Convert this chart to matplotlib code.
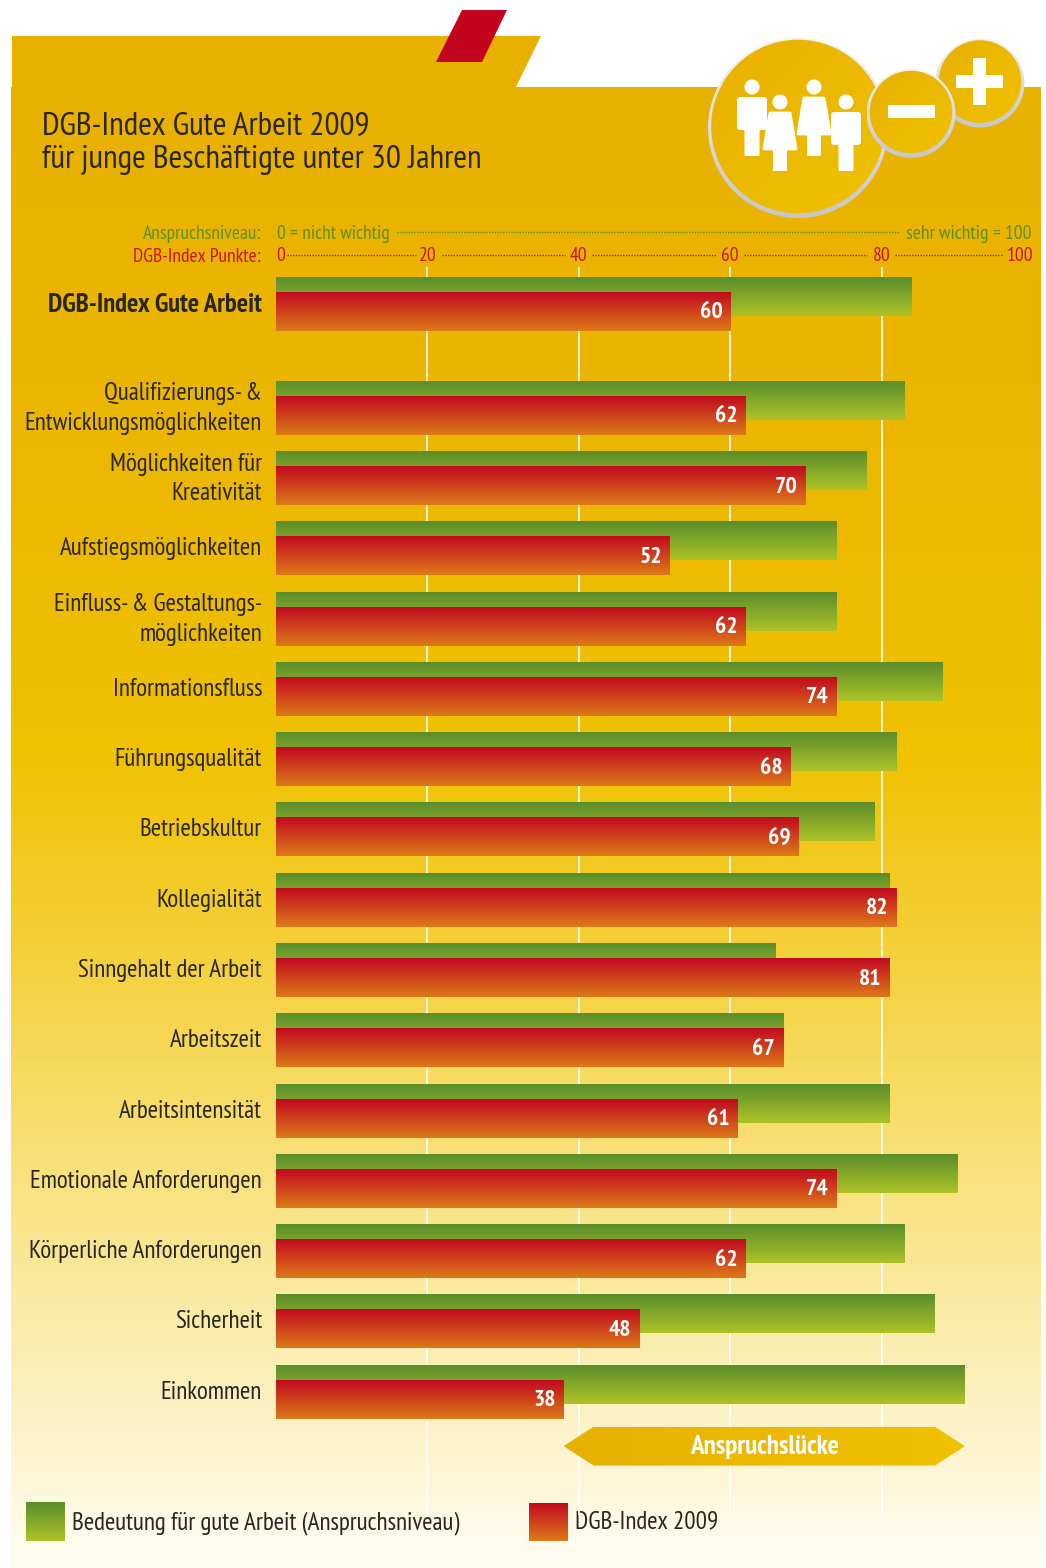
import numpy as np
import matplotlib
matplotlib.use("Agg")
import matplotlib.pyplot as plt
from matplotlib.colors import LinearSegmentedColormap
from matplotlib.patches import Circle, Polygon, Rectangle, FancyBboxPatch

plt.rcParams['font.family'] = ['PT Sans Narrow', 'Liberation Sans', 'DejaVu Sans']

# ---------- data ----------
summary_label = "DGB-Index Gute Arbeit"
summary_anspruch = 84
summary_index = 60

categories = [
    "Qualifizierungs- &\nEntwicklungsmöglichkeiten",
    "Möglichkeiten für\nKreativität",
    "Aufstiegsmöglichkeiten",
    "Einfluss- & Gestaltungs-\nmöglichkeiten",
    "Informationsfluss",
    "Führungsqualität",
    "Betriebskultur",
    "Kollegialität",
    "Sinngehalt der Arbeit",
    "Arbeitszeit",
    "Arbeitsintensität",
    "Emotionale Anforderungen",
    "Körperliche Anforderungen",
    "Sicherheit",
    "Einkommen",
]
anspruch = [83, 78, 74, 74, 88, 82, 79, 81, 66, 67, 81, 90, 83, 87, 91]
index_2009 = [62, 70, 52, 62, 74, 68, 69, 82, 81, 67, 61, 74, 62, 48, 38]
grid_ticks = [20, 40, 60, 80]
axis_ticks = [0, 20, 40, 60, 80, 100]

# ---------- colours ----------
GREEN = LinearSegmentedColormap.from_list("g", ["#5A8E2B", "#AEC227"])
RED = LinearSegmentedColormap.from_list("r", ["#C20A20", "#DC7A18"])
GOLD = LinearSegmentedColormap.from_list("gold", ["#E8B000", "#F0C200"])
RING = LinearSegmentedColormap.from_list("ring", ["#F4F4F4", "#C6C6C6"])
GREEN_TXT = "#5F9028"
RED_TXT = "#C8141E"
DARK = "#2A2622"

W, H = 1046, 1568
fig = plt.figure(figsize=(W / 100, H / 100), dpi=100, facecolor="white")

# background axes in pixel coordinates
bg = fig.add_axes([0, 0, 1, 1])
bg.set_xlim(0, W)
bg.set_ylim(H, 0)
bg.axis("off")

stops = [(36, "#E8B000"), (500, "#ECB800"), (750, "#F0C200"), (900, "#F3CC2A"),
         (1100, "#F8DC66"), (1350, "#FBEDB0"), (1568, "#FFFDF3")]
bg_cmap = LinearSegmentedColormap.from_list(
    "bg", [((y - 36) / (1568 - 36), c) for y, c in stops])
im = bg.imshow(np.linspace(0, 1, 512)[:, None], extent=(11, 1041, 1568, 36),
               cmap=bg_cmap, aspect="auto", zorder=1)
sheet = Polygon([(12, 36), (541, 36), (516, 87), (1041, 87), (1041, 1568),
                 (11, 1568), (11, 87), (12, 87)], closed=True, transform=bg.transData,
                fc="none", ec="none")
bg.add_patch(sheet)
im.set_clip_path(sheet)

bg.add_patch(Polygon([(462, 10), (507, 10), (482, 62), (436, 62)], fc="#C20421", ec="none", zorder=2))

diag = np.add.outer(np.linspace(0, 0.5, 128), np.linspace(0, 0.5, 128))


def badge(cx, cy, r, z):
    # ring heavier at the bottom, disc with a diagonal gradient on top
    ring = Circle((cx, cy), r, fc="none", ec="none", zorder=z)
    bg.add_patch(ring)
    a = bg.imshow(np.linspace(0, 1, 128)[:, None], extent=(cx - r, cx + r, cy + r, cy - r),
                  cmap=RING, aspect="auto", zorder=z)
    a.set_clip_path(ring)
    disc = Circle((cx, cy - 1.5), r - 3.2, fc="none", ec="none", zorder=z + 0.1)
    bg.add_patch(disc)
    b = bg.imshow(diag, extent=(cx - r, cx + r, cy + r, cy - r),
                  cmap=GOLD, vmin=0, vmax=1, aspect="auto", zorder=z + 0.1)
    b.set_clip_path(disc)


def white_rect(x0, y0, x1, y1, round_px=2):
    bg.add_patch(FancyBboxPatch((x0 + round_px, y0 + round_px), x1 - x0 - 2 * round_px, y1 - y0 - 2 * round_px,
                                boxstyle=f"round,pad={round_px},rounding_size={round_px}",
                                fc="white", ec="none", zorder=3.5))


def man(cx, head_y):
    bg.add_patch(Circle((cx, head_y), 7.5, fc="white", ec="none", zorder=3.5))
    white_rect(cx - 15, head_y + 10, cx + 15, head_y + 43, 3)
    white_rect(cx - 7.5, head_y + 40, cx + 7.5, head_y + 69, 1)


def woman(cx, head_y):
    bg.add_patch(Circle((cx, head_y), 7.5, fc="white", ec="none", zorder=3.5))
    bg.add_patch(Polygon([(cx - 10, head_y + 11), (cx + 10, head_y + 11), (cx + 12, head_y + 22),
                          (cx + 16, head_y + 47), (cx - 16, head_y + 47), (cx - 12, head_y + 22)],
                         fc="white", ec="white", lw=2, joinstyle="round", zorder=3.5))
    white_rect(cx - 7, head_y + 46, cx + 7, head_y + 69, 1)


badge(798, 128, 90, 3)
badge(980, 83, 44.5, 4)
badge(911, 113.5, 44.5, 5)
man(752, 87)
woman(780, 102)
woman(814, 87)
man(846, 102)
bg.add_patch(Rectangle((888, 105), 47, 13, fc="white", ec="none", zorder=6))
bg.add_patch(Rectangle((956, 75), 47, 13, fc="white", ec="none", zorder=6))
bg.add_patch(Rectangle((973, 58), 13, 47, fc="white", ec="none", zorder=6))

# title
bg.text(42, 127, "DGB-Index Gute Arbeit 2009", fontsize=24, color=DARK, va="center", zorder=6)
bg.text(42, 160, "für junge Beschäftigte unter 30 Jahren", fontsize=24, color=DARK, va="center", zorder=6)

# scale header
bg.text(261, 234, "Anspruchsniveau:", fontsize=14, color=GREEN_TXT, ha="right", va="center", zorder=6)
bg.text(277, 234, "0 = nicht wichtig", fontsize=14, color=GREEN_TXT, ha="left", va="center", zorder=6)
bg.text(1032, 234, "sehr wichtig = 100", fontsize=14, color=GREEN_TXT, ha="right", va="center", zorder=6)
bg.text(261, 257, "DGB-Index Punkte:", fontsize=14, color=RED_TXT, ha="right", va="center", zorder=6)
bg.plot([397, 900], [232, 232], color=GREEN_TXT, lw=1, ls=(0, (1, 1)), zorder=6)
for x0, x1 in [(287, 416), (442, 565), (592, 716), (744, 867), (895, 1002)]:
    bg.plot([x0, x1], [255, 255], color=RED_TXT, lw=1, ls=(0, (1, 1)), zorder=6)

# ---------- chart axes: x in index points, y in row units ----------
LEFT, RIGHT, TOP, BOTTOM = 276, 1033, 267, 1515
ROW = 70.27
FIRST = 380.85
ax = fig.add_axes([LEFT / W, 1 - BOTTOM / H, (RIGHT - LEFT) / W, (BOTTOM - TOP) / H])
ax.patch.set_alpha(0)
for s in ax.spines.values():
    s.set_visible(False)
ylim = ((BOTTOM - FIRST) / ROW, (TOP - FIRST) / ROW)

bar_h = 39 / ROW
red_off = 15 / ROW
summary_pos = (277 - FIRST) / ROW
positions = np.r_[summary_pos, np.arange(len(categories))]
green_vals = [summary_anspruch] + anspruch
red_vals = [summary_index] + index_2009
labels = [summary_label] + categories

for g in grid_ticks:
    ax.axvline(g, color="white", lw=1.2, zorder=1)


def gradient_bars(pos, vals, cmap, z):
    bars = ax.barh(pos, vals, height=bar_h, align="edge", color="none", zorder=z)
    for b in bars:
        x, y, w, h = b.get_x(), b.get_y(), b.get_width(), b.get_height()
        im = ax.imshow(np.linspace(0, 1, 64)[:, None], extent=(x, x + w, y + h, y),
                       cmap=cmap, aspect="auto", zorder=z)
        im.set_clip_path(b)


gradient_bars(positions, green_vals, GREEN, 2)
gradient_bars(positions + red_off, red_vals, RED, 3)

for p, v in zip(positions, red_vals):
    ax.text(v - 1.05, p + red_off + bar_h / 2 + 1.5 / ROW, str(v), color="white", fontsize=17,
            fontweight="bold", ha="right", va="center", zorder=5)

# gap arrow under the last row, from its red value to its green value
gap_y0 = positions[-1] + (1427 - 1365) / ROW
gap_y1 = positions[-1] + (1466 - 1365) / ROW
gap_a, gap_b = index_2009[-1], anspruch[-1]
gap_in = 30 / 7.57
arrow = Polygon([(gap_a, (gap_y0 + gap_y1) / 2), (gap_a + gap_in, gap_y0), (gap_b - gap_in, gap_y0),
                 (gap_b, (gap_y0 + gap_y1) / 2), (gap_b - gap_in, gap_y1), (gap_a + gap_in, gap_y1)],
                fc="none", ec="none", zorder=4)
ax.add_patch(arrow)
gim = ax.imshow(np.linspace(0, 1, 128)[None, :], extent=(gap_a, gap_b, gap_y1, gap_y0),
                cmap=GOLD, aspect="auto", zorder=4)
gim.set_clip_path(arrow)
ax.text((gap_a + gap_b) / 2, (gap_y0 + gap_y1) / 2 + 1 / ROW, "Anspruchslücke", color="white",
        fontsize=19.5, fontweight="bold", ha="center", va="center", zorder=5)

ax.set_xlim(0, 100)
ax.set_ylim(*ylim)

# row labels, two-line ones sit a little higher
label_pos = [p + (22 if "\n" in t else 25) / ROW for p, t in zip(positions, labels)]
ax.set_yticks(label_pos)
ax.set_yticklabels(labels, fontsize=18, color=DARK, ha="right", linespacing=1.38)
ax.get_yticklabels()[0].set_fontweight("bold")
ax.get_yticklabels()[0].set_fontsize(19.3)
ax.tick_params(axis="y", length=0, pad=10)

# red scale along the top
ax.xaxis.tick_top()
ax.set_xticks(axis_ticks)
ax.set_xticklabels([str(t) for t in axis_ticks], fontsize=14, color=RED_TXT)
ax.tick_params(axis="x", length=0, pad=1.5)
ax.get_xticklabels()[0].set_ha("left")
ax.get_xticklabels()[-1].set_ha("right")

# legend
for (x0, y0, y1, cmap, txt, tx, ty) in [(26, 1502, 1541, GREEN, "Bedeutung für gute Arbeit (Anspruchsniveau)", 72, 1523),
                                        (529, 1503, 1541, RED, "DGB-Index 2009", 575, 1522)]:
    bg.imshow(np.linspace(0, 1, 64)[:, None], extent=(x0, x0 + 39, y1, y0), cmap=cmap, aspect="auto", zorder=6)
    bg.text(tx, ty, txt, fontsize=18, color=DARK, va="center", zorder=6)
bg.set_xlim(0, W)
bg.set_ylim(H, 0)

fig.savefig("out.png", dpi=100)
